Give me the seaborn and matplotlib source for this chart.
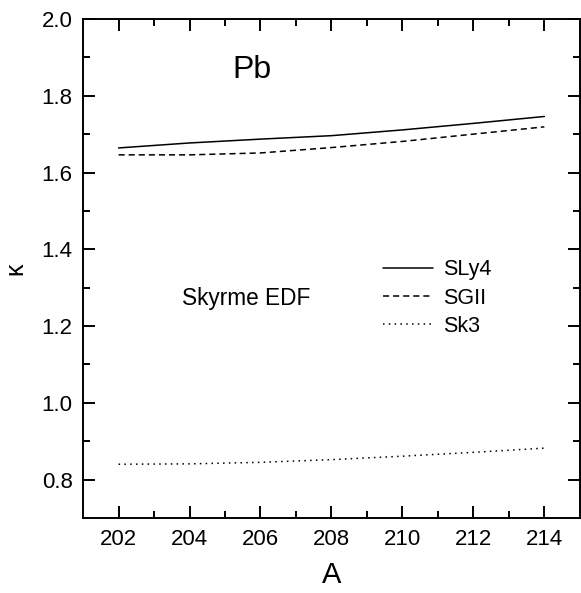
import matplotlib
matplotlib.use("Agg")
import matplotlib.pyplot as plt
import seaborn as sns
import pandas as pd

A = [202, 204, 206, 208, 210, 212, 214]
sly4 = [1.664, 1.677, 1.687, 1.696, 1.711, 1.728, 1.746]
sgii = [1.646, 1.646, 1.651, 1.665, 1.681, 1.700, 1.719]
sk3 = [0.840, 0.841, 0.845, 0.852, 0.861, 0.871, 0.882]
labels = ["SLy4", "SGII", "Sk3"]

sns.set_style("ticks")
plt.rcParams['font.family'] = ['Liberation Sans', 'DejaVu Sans']
for k in ["text.color", "axes.labelcolor", "xtick.color", "ytick.color", "axes.edgecolor"]:
    plt.rcParams[k] = "black"

df = pd.DataFrame({"A": A * 3,
                   "kappa": sly4 + sgii + sk3,
                   "model": [labels[0]] * 7 + [labels[1]] * 7 + [labels[2]] * 7})

fig = plt.figure(figsize=(5.81, 5.93), dpi=100)
ax = fig.add_axes([0.143, 0.1265, 0.855, 0.8415])
sns.lineplot(data=df, x="A", y="kappa", hue="model", style="model",
             palette=["black"] * 3, dashes=[(), (4.0, 2.6), (1, 2.8)],
             linewidth=1.1, ax=ax, legend=True)

ax.set_xlim(201, 215)
ax.set_ylim(0.7, 2.0)
ax.set_xticks([202, 204, 206, 208, 210, 212, 214])
ax.set_xticks([203, 205, 207, 209, 211, 213], minor=True)
ax.set_yticks([0.8, 1.0, 1.2, 1.4, 1.6, 1.8, 2.0])
ax.set_yticks([0.9, 1.1, 1.3, 1.5, 1.7, 1.9], minor=True)
ax.set_yticklabels(["0.8", "1.0", "1.2", "1.4", "1.6", "1.8", "2.0"])
ax.tick_params(which="both", direction="in", top=True, right=True, width=1.4, labelsize=16)
ax.tick_params(axis="y", which="major", pad=7.5)
ax.tick_params(axis="x", which="major", pad=8)
ax.tick_params(which="major", length=8.5)
ax.tick_params(which="minor", length=5)
for s in ax.spines.values():
    s.set_linewidth(1.4)

ax.set_xlabel("A", fontsize=21, labelpad=8)
ax.set_ylabel("κ", fontsize=18, labelpad=10)

ax.text(205.75, 1.867, "Pb", fontsize=23, ha="center", va="center")
ax.text(205.6, 1.273, "Skyrme EDF", fontsize=16.3, ha="center", va="center")
h, l = ax.get_legend_handles_labels()
ax.legend(h, l, loc="upper left", bbox_to_anchor=(0.604, 0.518), frameon=False, fontsize=15.5,
          handlelength=2.3, handletextpad=0.5, labelspacing=0.33, borderpad=0, borderaxespad=0)

fig.savefig("out.png", dpi=100)
